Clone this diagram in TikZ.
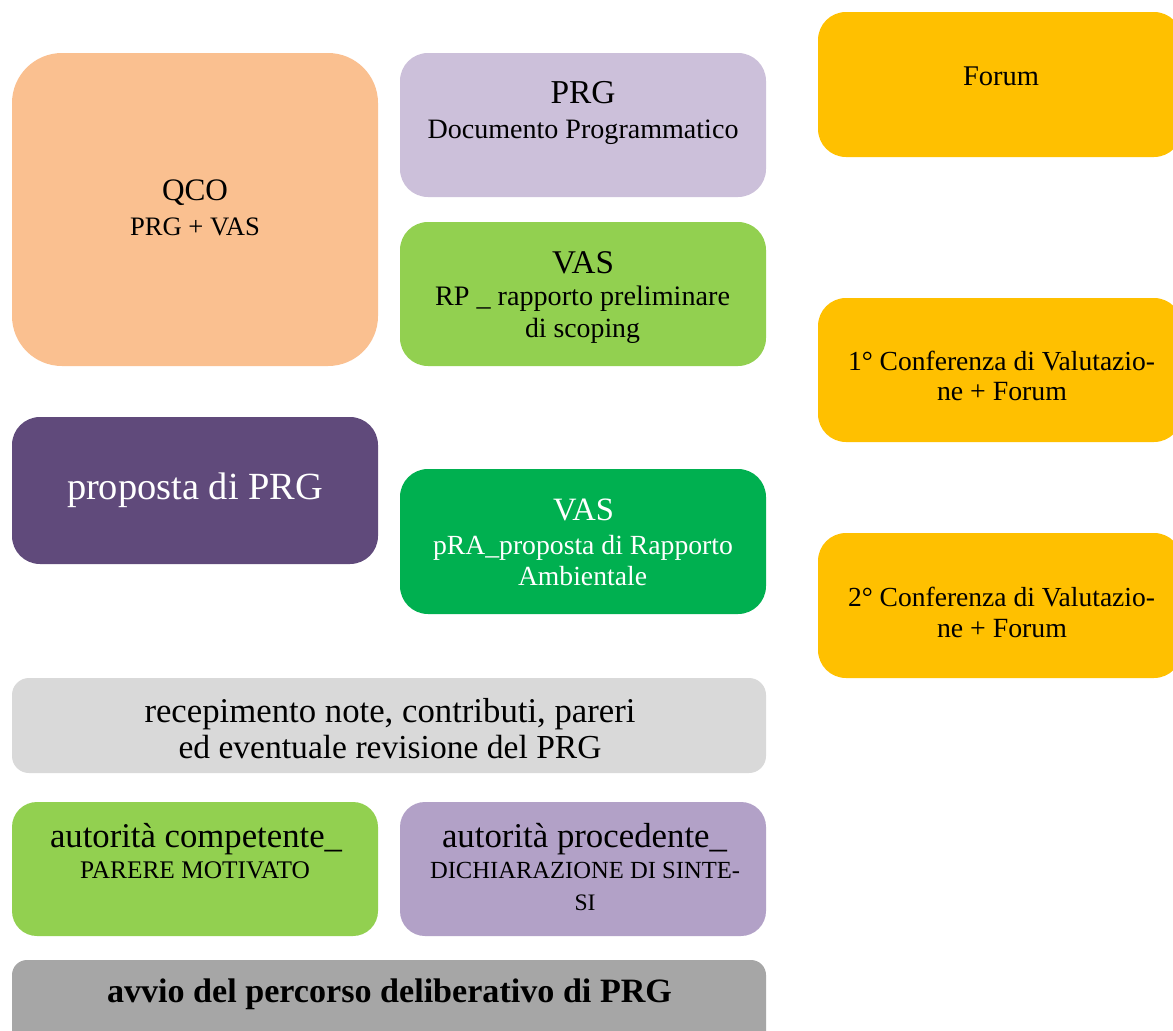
\documentclass[tikz,border=0pt]{standalone}
\usepackage{fontspec}
\setmainfont{Liberation Serif}
\definecolor{cQCO}{HTML}{FAC090}
\definecolor{cPRG}{HTML}{CCC0DA}
\definecolor{cVASa}{HTML}{92D050}
\definecolor{cPROP}{HTML}{604A7B}
\definecolor{cVASb}{HTML}{00B050}
\definecolor{cFOR}{HTML}{FFC000}
\definecolor{cREC}{HTML}{D9D9D9}
\definecolor{cAUTP}{HTML}{B2A1C7}
\definecolor{cAVV}{HTML}{A6A6A6}
\newlength\fwlen
\newcommand\fw[2]{\settowidth\fwlen{\fontsize{10pt}{12pt}\selectfont #2}%
  \pgfmathsetmacro\fwsz{10*#1/\fwlen}%
  \fontsize{\fwsz pt}{\fwsz pt}\selectfont #2}
\tikzset{
  box/.style={draw=none, inner sep=0pt, rectangle},
  ln/.style={anchor=base, inner sep=0pt, text=black},
  lnw/.style={anchor=base, inner sep=0pt, text=white}
}
\begin{document}
\begin{tikzpicture}[x=1pt,y=-1pt]
\useasboundingbox (0,0) rectangle (1173,1031);
\clip (0,0) rectangle (1173,1031);
\fill[white] (0,0) rectangle (1173,1031);
% boxes
\node[box, fill=cQCO, minimum width=366pt, minimum height=313pt, rounded corners=50pt] (qco) at (195,209.5) {};
\node[box, fill=cPRG, minimum width=366pt, minimum height=144pt, rounded corners=28pt] (prg) at (583,125) {};
\node[box, fill=cVASa, minimum width=366pt, minimum height=144pt, rounded corners=28pt] (vas1) at (583,294) {};
\node[box, fill=cPROP, minimum width=366pt, minimum height=147pt, rounded corners=28pt] (prop) at (195,490.5) {};
\node[box, fill=cVASb, minimum width=366pt, minimum height=145pt, rounded corners=28pt] (vas2) at (583,541.5) {};
\node[box, fill=cFOR, minimum width=364pt, minimum height=145pt, rounded corners=28pt] (forum) at (1000,84.5) {};
\node[box, fill=cFOR, minimum width=364pt, minimum height=144pt, rounded corners=28pt] (conf1) at (1000,370) {};
\node[box, fill=cFOR, minimum width=364pt, minimum height=145pt, rounded corners=28pt] (conf2) at (1000,605.5) {};
\node[box, fill=cREC, minimum width=754pt, minimum height=95pt, rounded corners=17pt] (recep) at (389,725.5) {};
\node[box, fill=cVASa, minimum width=366pt, minimum height=134pt, rounded corners=25pt] (autc) at (195,869) {};
\node[box, fill=cAUTP, minimum width=366pt, minimum height=134pt, rounded corners=25pt] (autp) at (583,869) {};
\node[box, fill=cAVV, minimum width=754pt, minimum height=90pt, rounded corners=15pt] (avvio) at (389,1005) {};
% texts
\node[ln] (qco-a) at (195,200) {\fw{66}{QCO}};
\node[ln] (qco-b) at (195,235) {\fw{130}{PRG + VAS}};
\node[ln] (prg-a) at (583,103) {\fw{65}{PRG}};
\node[ln] (prg-b) at (583,138) {\fw{311}{Documento Programmatico}};
\node[ln] (vas1-a) at (583,273) {\fw{62}{VAS}};
\node[ln] (vas1-b) at (582.5,305) {\fw{295}{RP \_ rapporto preliminare}};
\node[ln] (vas1-c) at (582.5,337) {\fw{115}{di scoping}};
\node[lnw] (prop-a) at (195,499) {\fw{256}{proposta di PRG}};
\node[lnw] (vas2-a) at (583.5,520) {\fw{61}{VAS}};
\node[lnw] (vas2-b) at (583,554) {\fw{300}{pRA\_proposta di Rapporto}};
\node[lnw] (vas2-c) at (582.5,585) {\fw{129}{Ambientale}};
\node[ln] (forum-a) at (1001,85) {\fw{76}{Forum}};
\node[ln] (conf1-a) at (1001.5,370) {\fw{307}{1° Conferenza di Valutazio-}};
\node[ln] (conf1-b) at (1002,400) {\fw{130}{ne + Forum}};
\node[ln] (conf2-a) at (1001.5,606) {\fw{307}{2° Conferenza di Valutazio-}};
\node[ln] (conf2-b) at (1002,637) {\fw{130}{ne + Forum}};
\node[ln] (recep-a) at (390,722) {\fw{491}{recepimento note, contributi, pareri}};
\node[ln] (recep-b) at (390,758) {\fw{423}{ed eventuale revisione del PRG}};
\node[ln] (autc-a) at (196,847) {\fw{292}{autorità competente\_}};
\node[ln] (autc-b) at (195,878) {\fw{230}{PARERE MOTIVATO}};
\node[ln] (autp-a) at (584.5,847) {\fw{285}{autorità procedente\_}};
\node[ln] (autp-b) at (585,878) {\fw{310}{DICHIARAZIONE DI SINTE-}};
\node[ln] (autp-c) at (585,910) {\fw{21}{SI}};
\node[ln] (avvio-a) at (389.5,1002) {\fw{565}{\bfseries avvio del percorso deliberativo di PRG}};
\end{tikzpicture}
\end{document}
